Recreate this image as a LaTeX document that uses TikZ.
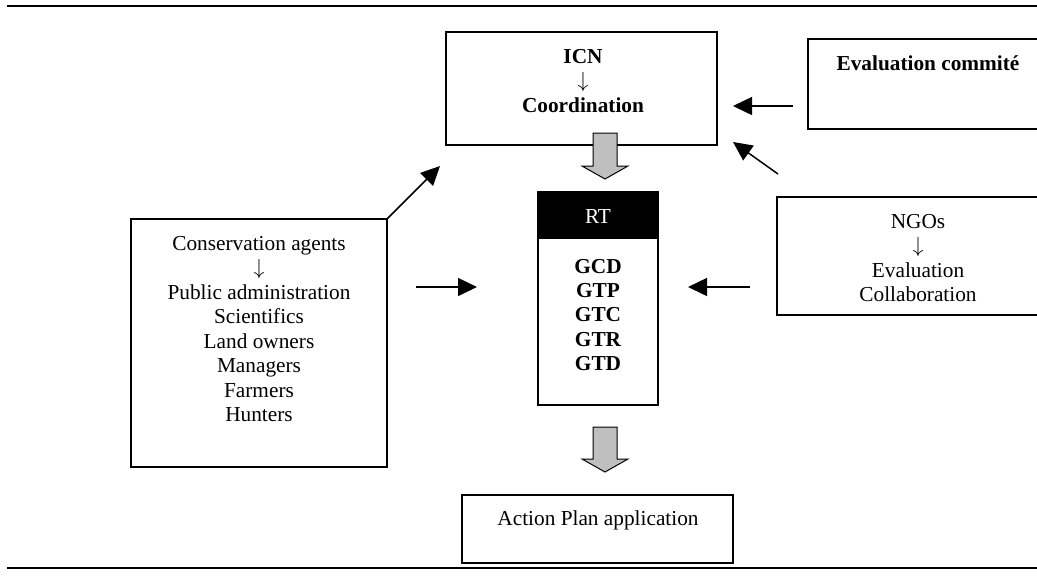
\documentclass[tikz,border=0pt]{standalone}
\usepackage{fontspec}
\setmainfont{Liberation Serif}
\usepackage{tikz}
\usetikzlibrary{positioning,arrows.meta}
\usetikzlibrary{calc}

\newcommand{\dnarrow}{$\downarrow$}

\tikzset{
  box/.style={draw, line width=0.6pt, inner sep=0pt},
  txt/.style={align=center, inner sep=0pt, font=\fontsize{10.65}{12.25}\selectfont},
  btxt/.style={txt, font=\fontsize{10.65}{12.25}\selectfont\bfseries},
  arr/.style={-{Triangle[length=9.5pt,width=9pt]}, line width=0.75pt},
  fatarrow/.style={fill=black!25, draw=black, line width=0.5pt}
}

\begin{document}
\begin{tikzpicture}[x=0.5pt, y=-0.5pt]
  \useasboundingbox (0,0) rectangle (1037,575);
  \clip (0,0) rectangle (1037,575);
  \draw[line width=0.65pt] (7,6) -- (1037,6);
  \draw[line width=1.3pt] (7,568) -- (1037,568);

  \node[box, minimum width=128pt, minimum height=124pt] (cons) at (259,343) {};
  \node[box, minimum width=135.5pt, minimum height=56.5pt] (icn) at (581.5,88.5) {};
  \node[box, minimum width=121pt, minimum height=45pt] (eval) at (929,84) {};
  \node[box, minimum width=141.5pt, minimum height=59pt] (ngo) at (918.5,256) {};
  \node[box, minimum width=60pt, minimum height=106.5pt] (rt) at (598,298.5) {};
  \node[box, minimum width=135.5pt, minimum height=34pt] (act) at (597.5,529) {};
  \fill (rt.north west) rectangle ($(rt.north east)+(0,48)$);

  \node[txt] (constxt) at (259,329) {Conservation agents\\ \dnarrow\\ Public administration\\ Scientifics\\ Land owners\\ Managers\\ Farmers\\ Hunters};
  \node[btxt] (icntxt) at (583,81) {ICN\\ \dnarrow\\ Coordination};
  \node[btxt] (evaltxt) at (928,63) {Evaluation commité};
  \node[txt] (ngotxt) at (918,258) {NGOs\\ \dnarrow\\ Evaluation\\ Collaboration};
  \node[txt, white] (rthead) at (598,217) {RT};
  \node[btxt, font=\fontsize{10.65}{12.1}\selectfont\bfseries] (rttxt) at (598,315) {GCD\\ GTP\\ GTC\\ GTR\\ GTD};
  \node[txt] (acttxt) at (598,520) {Action Plan application};

  \foreach \yt/\yb in {133/179, 427/472}
    \filldraw[fatarrow] (593,\yt) -- (617,\yt) -- (617,\yb-13) -- (628,\yb-13)
      -- (605,\yb) -- (582,\yb-13) -- (593,\yb-13) -- cycle;

  \coordinate (cons-tip) at (440,166);
  \coordinate (cons-out) at (416,287);
  \coordinate (rt-west) at (477,287);
  \coordinate (ngo-out) at (750,287);
  \coordinate (rt-east) at (688,287);
  \coordinate (eval-out) at (793,106);
  \coordinate (icn-east) at (733,106);
  \coordinate (ngo-up) at (778,174);
  \coordinate (icn-se) at (733,142);
  \draw[arr] (cons.north east) -- (cons-tip);
  \draw[arr] (cons-out) -- (rt-west);
  \draw[arr] (ngo-out) -- (rt-east);
  \draw[arr] (eval-out) -- (icn-east);
  \draw[arr] (ngo-up) -- (icn-se);
\end{tikzpicture}
\end{document}
